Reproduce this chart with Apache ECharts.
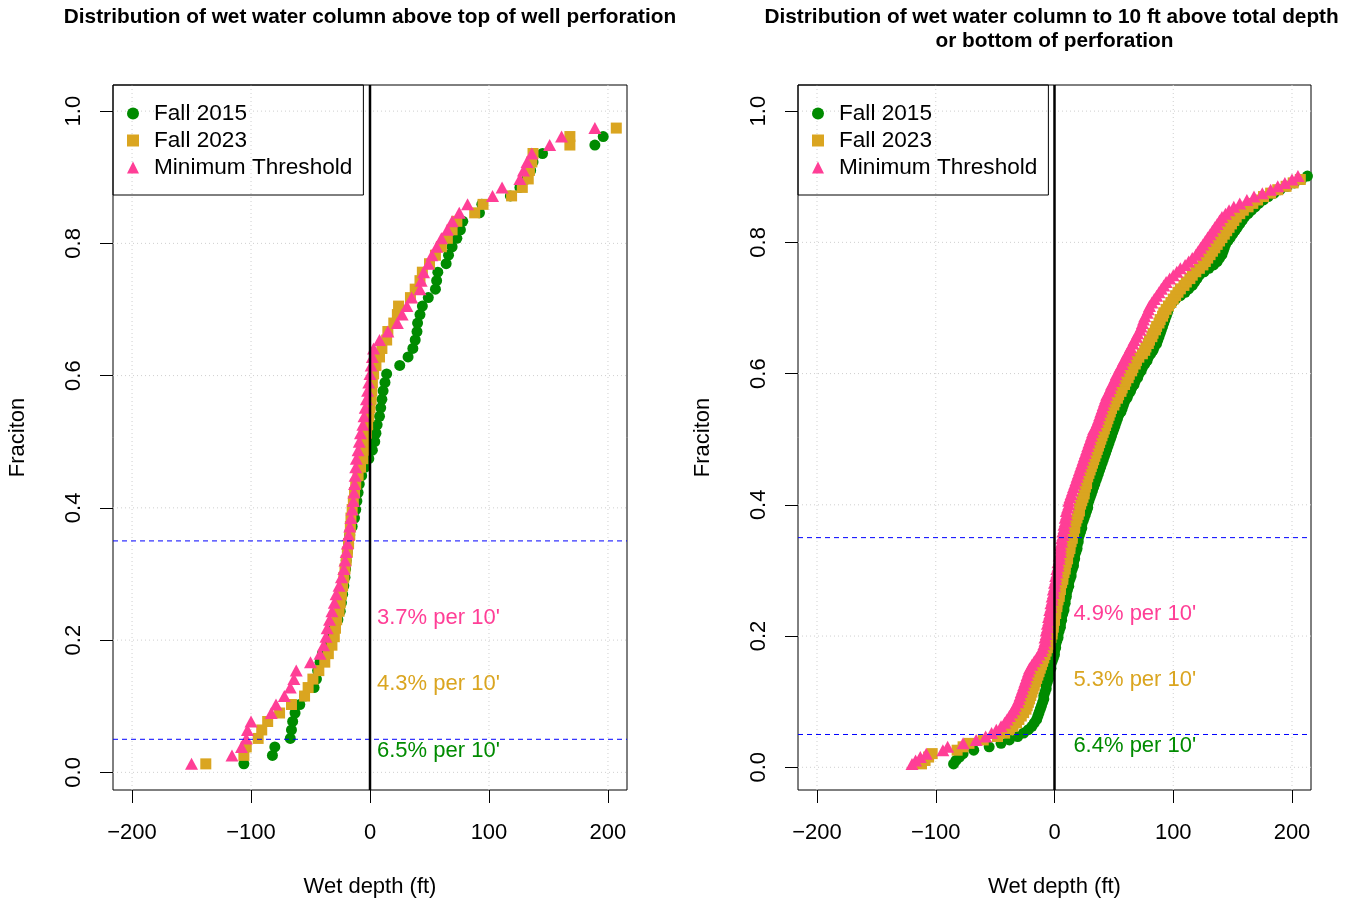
<!DOCTYPE html>
<html>
<head>
<meta charset="utf-8">
<script src="https://cdn.jsdelivr.net/npm/echarts@6/dist/echarts.min.js"></script>
<style>
  html, body { margin: 0; padding: 0; background: #fff; }
  #chart { width: 1351px; height: 901px; }
</style>
</head>
<body>
<div id="chart"></div>
<script>
// ---- shared labels / ticks ----
const seriesNames = ['Fall 2015', 'Fall 2023', 'Minimum Threshold'];
const xTicks = [-200, -100, 0, 100, 200];
const yTicks = [0, 0.2, 0.4, 0.6, 0.8, 1.0];
const thresholdFractions = [0.35, 0.05];
const slopeLabelFractions = [0.033, 0.133, 0.233];

// ---- panel 1: wet water column above top of well perforation (ft), sorted ----
const topWellCount = 78;
const topFall2015 = [
  -106, -82, -80, -67, -66, -65, -63, -59, -55, -47,
  -45, -44, -42, -40, -36, -33, -30, -27, -25, -24,
  -23, -22, -21, -20.5, -20, -19, -18, -17, -15, -13,
  -12, -11, -10, -9, -7, -4, -1, 2, 4, 5,
  6, 8, 9, 10, 11, 12.6, 14, 25, 32, 36,
  38, 39.5, 40, 42, 44, 49, 55, 56, 57, 64,
  66, 69, 73, 76, 78, 92, 94, 118, 126, 132,
  135, 137, 145, 189, 196
];
const topFall2023 = [
  -138, -106, -104, -94, -91, -86, -76, -66, -55, -52,
  -48, -43, -38, -35, -32, -30, -29, -28, -26, -25,
  -24, -23, -22, -21, -20, -19, -18, -17, -16.5, -16,
  -15, -14, -13, -12, -10, -8, -6, -5, -4, -3,
  -2, -1, 0, 1, 1.5, 2, 3, 5, 8, 10,
  14, 15, 20, 23, 24, 34, 38, 42, 44, 50,
  55, 60, 65, 69, 73, 88, 95, 119, 128, 133,
  134, 136, 137, 168, 168, 207
];
const topMinimum = [
  -150, -116, -108, -104, -103, -100, -83, -79, -72, -67,
  -64, -62, -50, -42, -39, -37, -36, -34, -32, -30,
  -28.5, -26, -24, -22, -21, -20, -19, -18, -17, -16,
  -15, -14, -13.5, -13, -12.5, -12, -11.5, -10, -9, -8,
  -6, -5, -4, -3, -2, -1, 0, 1, 2, 3,
  8, 15, 23, 27, 31, 35, 42, 43, 45, 49,
  52, 56, 60, 65, 69, 75, 82, 103, 111, 126,
  129, 132, 136, 151, 161, 189
];
const topSlopeLabels = ["6.5% per 10'", "4.3% per 10'", "3.7% per 10'"];
const topSlopeLabelDepth = 0;

// ---- panel 2: wet water column to 10 ft above total depth / bottom of perforation (ft), sorted ----
const bottomWellCount = 192;
const bottomFall2015 = [
  -85, -83, -80, -77, -68, -55, -45, -38, -31, -26, -22, -19, -17, -15, -14, -13, -12, -11, -10, -9,
  -9, -8, -7, -7, -6, -5, -5, -4, -3, -3, -2, -1, 0, 0, 1, 1, 2, 3, 3, 4,
  5, 5, 6, 6, 7, 8, 8, 9, 9, 10, 10, 11, 12, 12, 13, 14, 14, 15, 16, 16,
  17, 17, 18, 19, 19, 20, 20, 21, 22, 23, 23, 24, 25, 26, 27, 28, 28, 29, 30, 31,
  32, 33, 34, 35, 36, 37, 38, 39, 40, 41, 42, 43, 44, 45, 46, 47, 48, 49, 50, 51,
  52, 53, 54, 56, 57, 58, 59, 61, 62, 64, 65, 67, 68, 70, 71, 73, 74, 76, 78, 79,
  81, 83, 84, 86, 87, 88, 89, 90, 91, 92, 93, 94, 95, 96, 97, 99, 102, 106, 110, 113,
  116, 118, 120, 122, 126, 130, 134, 137, 139, 141, 142, 143, 144, 146, 148, 150, 152, 154, 156, 158,
  160, 163, 166, 169, 172, 176, 180, 185, 190, 196, 202, 208, 213
];
const bottomFall2023 = [
  -112, -109, -106, -103, -82, -77, -72, -60, -48, -42, -38, -35, -32, -30, -28, -26, -24, -23, -22, -21,
  -20, -19, -18, -17, -16, -15, -14, -13, -12, -11, -10, -9, -8, -7, -6, -5, -4, -3, -2, -2,
  -1, -1, 0, 0, 1, 1, 2, 2, 3, 4, 4, 5, 5, 6, 7, 7, 8, 9, 9, 10,
  11, 11, 12, 13, 13, 14, 15, 15, 16, 17, 17, 18, 19, 20, 21, 21, 22, 23, 24, 25,
  25, 26, 27, 27, 28, 29, 30, 31, 32, 33, 34, 35, 36, 37, 38, 39, 40, 41, 42, 43,
  44, 45, 46, 47, 48, 50, 51, 53, 54, 56, 57, 59, 60, 62, 63, 65, 66, 68, 69, 71,
  74, 76, 77, 79, 80, 82, 83, 85, 86, 88, 89, 91, 92, 94, 96, 98, 100, 102, 104, 106,
  109, 111, 114, 116, 119, 122, 125, 127, 129, 131, 133, 135, 137, 139, 141, 143, 145, 147, 149, 151,
  153, 156, 159, 163, 167, 171, 176, 182, 188, 195, 201, 207
];
const bottomMinimum = [
  -120, -117, -113, -108, -94, -90, -77, -66, -58, -53, -49, -45, -42, -40, -38, -36, -34, -33, -31, -30,
  -29, -28, -27, -26, -25, -24, -23, -22, -21, -19, -17, -15, -13, -11, -10, -9, -8, -8, -7, -7,
  -6, -6, -5, -5, -4, -4, -3, -3, -2, -2, -1, -1, 0, 0, 1, 1, 2, 2, 3, 3,
  4, 4, 5, 5, 5, 6, 6, 7, 7, 8, 8, 9, 9, 10, 10, 11, 12, 12, 13, 14,
  15, 16, 17, 18, 19, 20, 21, 22, 23, 24, 25, 26, 27, 28, 29, 30, 31, 32, 33, 35,
  36, 37, 38, 39, 40, 41, 42, 43, 44, 46, 47, 48, 50, 51, 52, 54, 55, 57, 58, 60,
  61, 63, 64, 66, 67, 69, 70, 72, 73, 74, 75, 76, 78, 79, 80, 82, 84, 86, 88, 90,
  92, 94, 97, 100, 103, 106, 110, 113, 116, 119, 121, 123, 125, 127, 129, 131, 133, 135, 137, 139,
  141, 144, 147, 151, 156, 162, 168, 175, 182, 188, 194, 200, 205
];
const bottomSlopeLabels = ["6.4% per 10'", "5.3% per 10'", "4.9% per 10'"];
const bottomSlopeLabelDepth = 10;

// ---- styling ----
const FONT = '"Liberation Sans", Arial, sans-serif';
const colors = ['#008B00', '#DAA520', '#FF3E96'];
const symbols = ['circle', 'rect', 'triangle'];
const symbolSizes = [11, 11, [13, 12]];
const X_MIN = -216, X_MAX = 216;

const panels = [
  {
    title: 'Distribution of wet water column above top of well perforation',
    left: 113, width: 514, yMin: -0.0267, yMax: 1.0395,
    count: topWellCount, series: [topFall2015, topFall2023, topMinimum],
    slopeLabels: topSlopeLabels, slopeDepth: topSlopeLabelDepth
  },
  {
    title: 'Distribution of wet water column to 10 ft above total depth \nor bottom of perforation',
    left: 798, width: 513, yMin: -0.0346, yMax: 1.0398,
    count: bottomWellCount, series: [bottomFall2015, bottomFall2023, bottomMinimum],
    slopeLabels: bottomSlopeLabels, slopeDepth: bottomSlopeLabelDepth
  }
];
const TOP = 85, HEIGHT = 705;

// empirical cumulative fraction of wells at or below each sorted depth
function ecdf(depths, count) {
  return depths.map((d, i) => [d, (i + 1) / count]);
}
const fmtX = v => (v < 0 ? '\u2212' + Math.abs(v) : String(v));

// straight reference lines across the whole plotting region
const hLine = (k, v, z, lineStyle) => ({
  type: 'line', xAxisIndex: k, yAxisIndex: k, z: z, silent: true,
  symbol: 'none', animation: false, emphasis: { disabled: true },
  lineStyle: lineStyle, data: [[X_MIN, v], [X_MAX, v]]
});
const vLine = (k, v, z, lineStyle, yMin, yMax) => ({
  type: 'line', xAxisIndex: k, yAxisIndex: k, z: z, silent: true,
  symbol: 'none', animation: false, emphasis: { disabled: true },
  lineStyle: lineStyle, data: [[v, yMin], [v, yMax]]
});

const grids = [], xAxes = [], yAxes = [], series = [], legends = [];

panels.forEach((p, k) => {
  grids.push({
    left: p.left, top: TOP, width: p.width, height: HEIGHT,
    outerBoundsMode: 'none', containLabel: false,
    show: true, borderColor: '#000', borderWidth: 1, backgroundColor: 'transparent'
  });
  xAxes.push({
    gridIndex: k, type: 'value', min: X_MIN, max: X_MAX,
    axisLine: { show: false, onZero: false }, splitLine: { show: false },
    axisTick: { show: true, customValues: xTicks, length: 13, lineStyle: { color: '#000', width: 1 } },
    axisLabel: { customValues: xTicks, formatter: fmtX, fontSize: 22, color: '#000', margin: 32, fontFamily: FONT },
    name: 'Wet depth (ft)', nameLocation: 'middle', nameGap: 86,
    nameTextStyle: { fontSize: 22, color: '#000', fontFamily: FONT }
  });
  yAxes.push({
    gridIndex: k, type: 'value', min: p.yMin, max: p.yMax,
    axisLine: { show: false, onZero: false }, splitLine: { show: false },
    axisTick: { show: true, customValues: yTicks, length: 13, lineStyle: { color: '#000', width: 1 } },
    axisLabel: { customValues: yTicks, rotate: 90, formatter: v => v.toFixed(1), fontSize: 22, color: '#000', margin: 28, fontFamily: FONT },
    name: 'Fraciton', nameLocation: 'middle', nameGap: 84,
    nameTextStyle: { fontSize: 22, color: '#000', fontFamily: FONT }
  });

  // light dotted reference grid
  const gridStyle = { color: '#CFCFCF', width: 1, type: [1, 3] };
  xTicks.forEach(v => series.push(vLine(k, v, 1, gridStyle, p.yMin, p.yMax)));
  yTicks.forEach(v => series.push(hLine(k, v, 1, gridStyle)));

  // ECDF points for each survey
  p.series.forEach((arr, s) => {
    series.push({
      name: seriesNames[s], type: 'scatter', xAxisIndex: k, yAxisIndex: k,
      symbol: symbols[s], symbolSize: symbolSizes[s], clip: true, z: 3,
      itemStyle: { color: colors[s], opacity: 1, borderWidth: 0 },
      emphasis: { disabled: true },
      data: ecdf(arr, p.count)
    });
  });

  // threshold fractions (blue dashed) and zero-depth line
  thresholdFractions.forEach(v =>
    series.push(hLine(k, v, 5, { color: '#0000FF', width: 1, type: [5, 4] })));
  series.push(vLine(k, 0, 6, { color: '#000', width: 2.5, type: 'solid' }, p.yMin, p.yMax));

  legends.push({
    data: seriesNames.map((n, s) => ({ name: n, icon: symbols[s] })),
    orient: 'vertical', left: p.left, top: TOP,
    padding: [17, 11, 16, 14], itemGap: 4, itemWidth: 12, itemHeight: 12,
    borderColor: '#000', borderWidth: 1, borderRadius: 0, backgroundColor: 'transparent',
    selectedMode: false,
    itemStyle: { borderWidth: 0 },
    textStyle: { fontSize: 22.6, lineHeight: 23, color: '#000', fontFamily: FONT, padding: [0, 0, 0, 10] }
  });
});

const chart = echarts.init(document.getElementById('chart'), null, { renderer: 'canvas' });
chart.setOption({
  animation: false,
  backgroundColor: '#fff',
  textStyle: { fontFamily: FONT },
  grid: grids, xAxis: xAxes, yAxis: yAxes,
  legend: legends, series: series
});

// titles and slope annotations (annotations anchored in data coordinates)
const graphics = [];
panels.forEach((p, k) => {
  graphics.push({
    type: 'text', x: p.left + p.width / 2, y: k === 0 ? 17 : 29, z: 10,
    style: {
      text: p.title, align: 'center', verticalAlign: 'middle',
      font: 'bold 20.8px ' + FONT, fill: '#000', lineHeight: 24
    }
  });
  p.slopeLabels.forEach((t, s) => {
    const pt = chart.convertToPixel({ xAxisIndex: k, yAxisIndex: k }, [p.slopeDepth, slopeLabelFractions[s]]);
    graphics.push({
      type: 'text', x: pt[0] + 7, y: pt[1], z: 10,
      style: { text: t, align: 'left', verticalAlign: 'middle', font: '22px ' + FONT, fill: colors[s] }
    });
  });
});
chart.setOption({ graphic: graphics });
</script>
</body>
</html>
